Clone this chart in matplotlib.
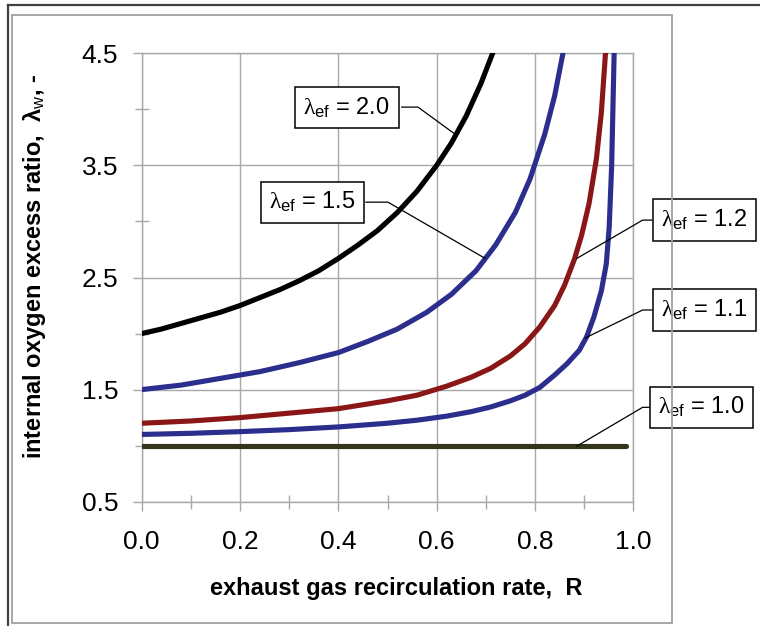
import matplotlib
matplotlib.use('Agg')
import matplotlib.pyplot as plt
from matplotlib.patches import Rectangle
from matplotlib.lines import Line2D

plt.rcParams['font.family'] = ['Liberation Sans', 'DejaVu Sans']
plt.rcParams['mathtext.fontset'] = 'custom'
plt.rcParams['mathtext.rm'] = 'Liberation Sans'
plt.rcParams['mathtext.it'] = 'Liberation Serif'
plt.rcParams['mathtext.bf'] = 'Liberation Sans:bold'

# values
r_20 = [0, 0.04, 0.08, 0.12, 0.16, 0.2, 0.24, 0.28, 0.32, 0.36, 0.4, 0.44, 0.48,
        0.52, 0.56, 0.6, 0.63, 0.66, 0.69, 0.72]
lam_20 = [2.0, 2.04, 2.09, 2.14, 2.19, 2.25, 2.32, 2.39, 2.47, 2.56, 2.67, 2.79, 2.92,
          3.08, 3.27, 3.5, 3.7, 3.94, 4.23, 4.57]

r_15 = [0, 0.08, 0.16, 0.24, 0.32, 0.4, 0.46, 0.52, 0.58, 0.63, 0.68, 0.72, 0.76,
        0.79, 0.82, 0.84, 0.86]
lam_15 = [1.5, 1.54, 1.6, 1.66, 1.74, 1.83, 1.93, 2.04, 2.19, 2.35, 2.56, 2.79, 3.08,
          3.38, 3.78, 4.12, 4.57]

r_12 = [0, 0.1, 0.2, 0.3, 0.4, 0.5, 0.56, 0.62, 0.67, 0.71, 0.75, 0.78, 0.81, 0.84,
        0.86, 0.88, 0.895, 0.91, 0.925, 0.935, 0.945]
lam_12 = [1.2, 1.22, 1.25, 1.29, 1.33, 1.4, 1.45, 1.53, 1.61, 1.69, 1.8, 1.91, 2.06,
          2.25, 2.43, 2.66, 2.88, 3.16, 3.56, 3.97, 4.6]

r_11 = [0, 0.1, 0.2, 0.3, 0.4, 0.5, 0.56, 0.62, 0.67, 0.71, 0.75, 0.78, 0.81, 0.84,
        0.865, 0.89, 0.905, 0.92, 0.935, 0.945, 0.951, 0.956, 0.959, 0.962]
lam_11 = [1.1, 1.11, 1.125, 1.143, 1.167, 1.2, 1.227, 1.263, 1.303, 1.345, 1.4, 1.45,
          1.52, 1.63, 1.73, 1.85, 1.97, 2.15, 2.38, 2.62, 2.95, 3.5, 4.1, 4.7]

r_10 = [0, 0.985]
lam_10 = [1.0, 1.0]

labels = ['2.0', '1.5', '1.2', '1.1', '1.0']
colors = ['#000000', '#2c2e8e', '#8a1616', '#2c2e8e', '#34341a']

x_ticks = [0.0, 0.2, 0.4, 0.6, 0.8, 1.0]
y_ticks = [0.5, 1.5, 2.5, 3.5, 4.5]

W, H = 760, 626
fig = plt.figure(figsize=(W / 100, H / 100), dpi=100)
ax = fig.add_axes([141.7 / W, 1 - 501.7 / H, 491.6 / W, 448.4 / H])

curves = [(r_20, lam_20), (r_15, lam_15), (r_12, lam_12), (r_11, lam_11), (r_10, lam_10)]
for (r, lam), c in zip(curves, colors):
    ax.plot(r, lam, color=c, lw=3.7, solid_capstyle='round', solid_joinstyle='round',
            zorder=3)

ax.set_xlim(0, 1)
ax.set_ylim(0.5, 4.5)
ax.set_xticks(x_ticks)
ax.set_xticklabels([f'{v:.1f}' for v in x_ticks])
ax.set_yticks(y_ticks)
ax.set_yticklabels([f'{v:.1f}' for v in y_ticks])
ax.set_xticks([0.1, 0.3, 0.5, 0.7, 0.9], minor=True)
ax.set_yticks([1.0, 2.0, 3.0, 4.0], minor=True)

grid_c = '#a8a8a8'
ax.grid(True, which='major', color=grid_c, lw=1.0)
for s in ax.spines.values():
    s.set_color(grid_c)
    s.set_linewidth(1.0)
ax.tick_params(which='major', direction='out', length=6.5, width=1.0, color=grid_c,
               labelsize=19)
ax.tick_params(axis='x', which='major', pad=14)
ax.tick_params(axis='y', which='major', pad=10.5)
ax.tick_params(which='minor', direction='inout', length=10, width=1.0, color=grid_c)

ax.set_xlabel('exhaust gas recirculation rate,  R', fontsize=17, fontweight='bold')
ax.set_ylabel(r'internal oxygen excess ratio,  $\mathbf{\lambda}_{\mathrm{w}}$, -',
              fontsize=17, fontweight='bold')
ax.xaxis.set_label_coords(0.518, -0.168)
ax.yaxis.set_label_coords(-0.19, 0.524)

# label boxes: (box centre, leader start, leader kink, leader end) in data coords
boxes = [
    ((0.417, 4.016), (0.529, 4.02), (0.562, 4.02), (0.637, 3.78)),
    ((0.347, 3.172), (0.456, 3.172), (0.501, 3.172), (0.698, 2.672)),
    ((1.145, 3.012), (1.038, 3.012), (1.019, 3.012), (0.885, 2.67)),
    ((1.145, 2.21), (1.038, 2.21), (1.019, 2.21), (0.902, 1.96)),
    ((1.139, 1.342), (1.034, 1.342), (1.019, 1.342), (0.885, 0.995)),
]
for lab, (centre, start, kink, end) in zip(labels, boxes):
    ax.plot([start[0], kink[0], end[0]], [start[1], kink[1], end[1]],
            color='black', lw=0.9, clip_on=False, zorder=4)
    ax.text(centre[0], centre[1], r'$\lambda_{\mathrm{ef}}$ = ' + lab, fontsize=17,
            ha='center', va='center', zorder=5, clip_on=False,
            bbox=dict(boxstyle='square,pad=0.36', fc='white', ec='black', lw=1.1))

# picture frames
fig.add_artist(Rectangle((12 / W, 1 - 623 / H), 660 / W, 608 / H, transform=fig.transFigure,
                         fill=False, ec='#a0a0a0', lw=1.3))
fig.add_artist(Line2D([8 / W, 8 / W], [0, 1 - 5 / H], transform=fig.transFigure,
                      color='#404040', lw=1.6))
fig.add_artist(Line2D([8 / W, 1], [1 - 5 / H, 1 - 5 / H], transform=fig.transFigure,
                      color='#404040', lw=1.6))

fig.savefig('out.png', dpi=100)
